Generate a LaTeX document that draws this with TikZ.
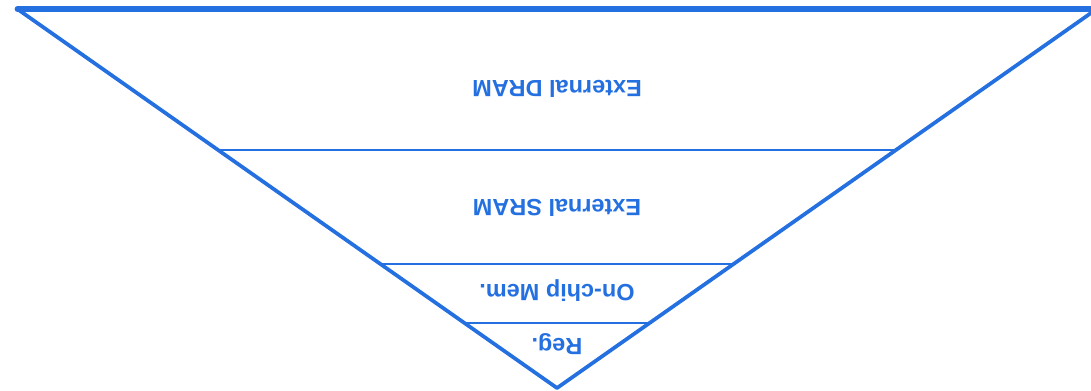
\documentclass[tikz,border=0pt]{standalone}
\usepackage{fontspec}
\setmainfont{Liberation Sans}
\usetikzlibrary{math}
\definecolor{pblue}{RGB}{36,112,224}

\begin{document}
\begin{tikzpicture}[x=0.75pt,y=-0.75pt,
  layer/.style={line width=2.2pt,color=pblue},
  lbl/.style={rotate=180,text=pblue,font=\bfseries\fontsize{17.6}{20}\selectfont}]

\tikzmath{
\W = 1091; \Hp = 390;%picture size
\ax = 557; \ay = 388;%apex
\k = 1.424;%half width per unit of height
\yt = 9;
\yd = 150;
\ys = 264;
\yr = 323;
}

\useasboundingbox (0,0) rectangle (\W,\Hp);
\clip (0,0) rectangle (\W,\Hp);

%corners:
\coordinate (A) at (\ax,\ay);
\coordinate (TL) at ({\ax-\k*(\ay-\yt)},\yt);
\coordinate (TR) at ({\ax+\k*(\ay-\yt)},\yt);

\foreach \y/\n in {\yd/D,\ys/S,\yr/R}{
 \coordinate (\n L) at ({\ax-\k*(\ay-\y)},\y);
 \coordinate (\n R) at ({\ax+\k*(\ay-\y)},\y);
 \draw[layer, line width=2pt] (\n L) -- (\n R);
 }

\draw[layer, line width=4pt, line cap=round] (TL) -- (TR);
\draw[layer, line width=2.8pt, line join=round] (TL) -- (A) -- (TR);

\node[lbl] (dram) at (\ax,89) {External DRAM};
\node[lbl] (sram) at (\ax,208) {External SRAM};
\node[lbl] (chip) at (\ax,291) {On-chip Mem.};
\node[lbl] (reg) at (\ax,344) {Reg.};

\end{tikzpicture}
\end{document}
